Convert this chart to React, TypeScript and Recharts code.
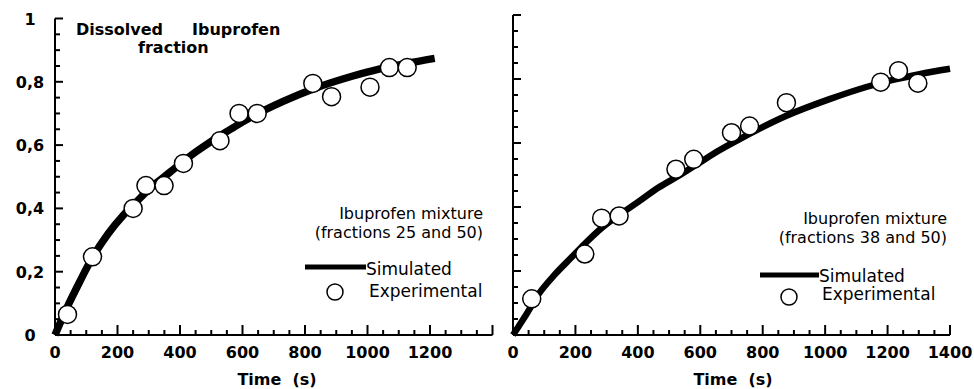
import React from "react";
import { ComposedChart, Line, Scatter, XAxis, YAxis } from "recharts";

// ─── Data ──────────────────────────────────────────────────────────────────────

// left panel: fractions 25 and 50
const expTimeA = [40, 120, 250, 291, 349, 411, 528, 589, 647, 825, 885, 1008, 1070, 1127];
const expFracA = [0.065, 0.247, 0.4, 0.472, 0.472, 0.542, 0.614, 0.7, 0.7, 0.795, 0.753, 0.783, 0.845, 0.845];
const simTimeA = [0, 40, 80, 120, 170, 220, 260, 300, 350, 400, 450, 500, 570, 625, 730, 830, 945, 1040, 1125, 1215];
const simFracA = [0, 0.09, 0.17, 0.245, 0.32, 0.38, 0.42, 0.46, 0.5, 0.54, 0.578, 0.612, 0.655, 0.687, 0.738, 0.779, 0.816, 0.841, 0.858, 0.874];

// right panel: fractions 38 and 50
const expTimeB = [60, 230, 284, 340, 522, 579, 700, 758, 876, 1178, 1235, 1297];
const expFracB = [0.113, 0.253, 0.365, 0.372, 0.518, 0.549, 0.632, 0.653, 0.726, 0.79, 0.826, 0.787];
const simTimeB = [0, 20, 40, 80, 135, 190, 230, 285, 340, 400, 465, 535, 600, 640, 726, 876, 1014, 1132, 1217, 1302, 1400];
const simFracB = [0, 0.03, 0.06, 0.125, 0.19, 0.245, 0.285, 0.335, 0.375, 0.415, 0.46, 0.5, 0.54, 0.565, 0.612, 0.685, 0.737, 0.775, 0.797, 0.815, 0.832];

// axis ticks (minor every 50 s / 0.05, labelled every 200 s / 0.2)
const xTicks = [0, 50, 100, 150, 200, 250, 300, 350, 400, 450, 500, 550, 600, 650, 700, 750, 800, 850, 900, 950, 1000, 1050, 1100, 1150, 1200, 1250, 1300, 1350, 1400];
const yTicks = [0, 0.05, 0.1, 0.15, 0.2, 0.25, 0.3, 0.35, 0.4, 0.45, 0.5, 0.55, 0.6, 0.65, 0.7, 0.75, 0.8, 0.85, 0.9, 0.95, 1];

const seriesNames = ["Simulated", "Experimental"];
const panelTitles = ["(fractions 25 and 50)", "(fractions 38 and 50)"];

const zip = (ts: number[], fs: number[]) => ts.map((t, i) => ({ t, f: fs[i] }));

const FONT = "'DejaVu Sans', sans-serif";

// ─── Ticks ─────────────────────────────────────────────────────────────────────

// ticks point inward; tickSize/tickMargin are 0 so x,y sit on the axis line
function XTick(props: any) {
  const { x, y, payload, maxLabel } = props;
  const v = payload.value;
  const major = v % 200 === 0;
  return (
    <g>
      <line x1={x} y1={y} x2={x} y2={y - (major ? 10 : 5)} stroke="#000" strokeWidth={2} />
      {major && v <= maxLabel && (
        <text x={x} y={y + 23} textAnchor="middle" fontFamily={FONT} fontWeight="bold" fontSize={16} fill="#000">
          {v}
        </text>
      )}
    </g>
  );
}

function YTick(props: any) {
  const { x, y, payload, showLabel } = props;
  const v = payload.value;
  const major = Math.round(v * 100) % 20 === 0;
  const label = v === 0 ? "0" : v === 1 ? "1" : v.toFixed(1).replace(".", ",");
  return (
    <g>
      <line x1={x} y1={y} x2={x + (major ? 8 : 5)} y2={y} stroke="#000" strokeWidth={2} />
      {major && showLabel && (
        <text x={x - 25} y={y + 6} textAnchor="middle" fontFamily={FONT} fontWeight="bold" fontSize={16} fill="#000">
          {label}
        </text>
      )}
    </g>
  );
}

const Circle = (p: any) => <circle cx={p.cx} cy={p.cy} r={9} fill="#fff" stroke="#000" strokeWidth={1.5} />;

// ─── Panel ─────────────────────────────────────────────────────────────────────

function Panel({ sim, exp, width, margin, lineWidth, maxLabel, yLabels }: any) {
  return (
    <ComposedChart width={width} height={389} margin={margin}>
      <XAxis
        type="number"
        dataKey="t"
        domain={[0, 1400]}
        ticks={xTicks}
        interval={0}
        height={1}
        tickSize={0}
        tickMargin={0}
        axisLine={{ stroke: "#000", strokeWidth: 2 }}
        tick={(p: any) => <XTick {...p} maxLabel={maxLabel} />}
      />
      <YAxis
        type="number"
        dataKey="f"
        domain={[0, 1]}
        ticks={yTicks}
        interval={0}
        width={1}
        tickSize={0}
        tickMargin={0}
        axisLine={{ stroke: "#000", strokeWidth: 2 }}
        tick={(p: any) => <YTick {...p} showLabel={yLabels} />}
      />
      <Line
        data={sim}
        dataKey="f"
        name={seriesNames[0]}
        type="monotone"
        stroke="#000"
        strokeWidth={lineWidth}
        dot={false}
        isAnimationActive={false}
      />
      <Scatter data={exp} dataKey="f" name={seriesNames[1]} shape={Circle} isAnimationActive={false} />
    </ComposedChart>
  );
}

// ─── App ───────────────────────────────────────────────────────────────────────

export default function App() {
  const txt = { fontFamily: FONT, fill: "#000" } as const;
  return (
    <div style={{ position: "absolute", left: 0, top: 0, width: 974, height: 389, background: "#fff" }}>
      <div style={{ position: "absolute", left: 0, top: 0 }}>
        <Panel
          sim={zip(simTimeA, simFracA)}
          exp={zip(expTimeA, expFracA)}
          width={500}
          margin={{ top: 18.5, left: 54, right: 7.5, bottom: 53 }}
          lineWidth={7.5}
          maxLabel={1200}
          yLabels
        />
      </div>
      <div style={{ position: "absolute", left: 505, top: 0 }}>
        <Panel
          sim={zip(simTimeB, simFracB)}
          exp={zip(expTimeB, expFracB)}
          width={469}
          margin={{ top: 15, left: 7, right: 24, bottom: 53 }}
          lineWidth={6.5}
          maxLabel={1400}
          yLabels={false}
        />
      </div>
      <svg width={974} height={389} style={{ position: "absolute", left: 0, top: 0, pointerEvents: "none" }}>
        {/* y-axis caption inside the left panel */}
        <text x={76} y={35} fontSize={16} fontWeight="bold" {...txt}>Dissolved</text>
        <text x={192} y={35} fontSize={16} fontWeight="bold" {...txt}>Ibuprofen</text>
        <text x={138} y={53} fontSize={16} fontWeight="bold" {...txt}>fraction</text>

        {/* x-axis titles */}
        <text x={277} y={385} textAnchor="middle" fontSize={16} fontWeight="bold" {...txt}>{"Time\u00a0\u00a0(s)"}</text>
        <text x={733} y={385} textAnchor="middle" fontSize={16} fontWeight="bold" {...txt}>{"Time\u00a0\u00a0(s)"}</text>

        {/* left annotation + legend */}
        <text x={483} y={219} textAnchor="end" fontSize={16} {...txt}>Ibuprofen mixture</text>
        <text x={483} y={238} textAnchor="end" fontSize={16} {...txt}>{panelTitles[0]}</text>
        <line x1={305} y1={267} x2={366} y2={267} stroke="#000" strokeWidth={5} />
        <text x={366} y={275} fontSize={17} {...txt}>{seriesNames[0]}</text>
        <circle cx={335} cy={292} r={8} fill="#fff" stroke="#000" strokeWidth={1.5} />
        <text x={369} y={297} fontSize={17} {...txt}>{seriesNames[1]}</text>

        {/* right annotation + legend */}
        <text x={947} y={224} textAnchor="end" fontSize={16} {...txt}>Ibuprofen mixture</text>
        <text x={947} y={243} textAnchor="end" fontSize={16} {...txt}>{panelTitles[1]}</text>
        <line x1={760} y1={275} x2={819} y2={275} stroke="#000" strokeWidth={5} />
        <text x={819} y={282} fontSize={17} {...txt}>{seriesNames[0]}</text>
        <circle cx={789} cy={297} r={8} fill="#fff" stroke="#000" strokeWidth={1.5} />
        <text x={822} y={300} fontSize={17} {...txt}>{seriesNames[1]}</text>
      </svg>
    </div>
  );
}
